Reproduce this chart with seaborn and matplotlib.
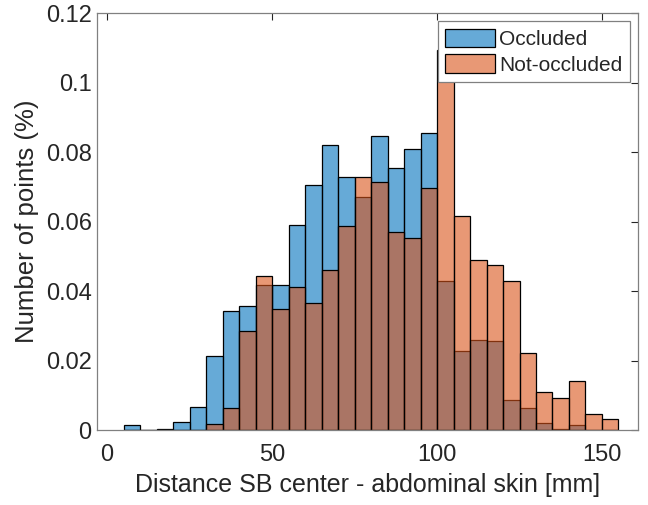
import numpy as np
import pandas as pd
import matplotlib
matplotlib.use("Agg")
import matplotlib.pyplot as plt
import seaborn as sns

# Bin edges (5 mm wide) and per-bin values
bin_edges = list(range(5, 160, 5))
occluded = [0.0013, 0.0, 0.0004, 0.0023, 0.0067, 0.0213, 0.0343, 0.0358, 0.0416,
            0.0416, 0.0589, 0.0706, 0.0821, 0.0729, 0.0672, 0.0846, 0.0754, 0.0808,
            0.0856, 0.0430, 0.0227, 0.0260, 0.0256, 0.0087, 0.0063, 0.0019, 0.0004,
            0.0013, 0.0, 0.0]
not_occluded = [0.0, 0.0, 0.0, 0.0, 0.0, 0.0016, 0.0063, 0.0286, 0.0443,
                0.0349, 0.0412, 0.0365, 0.0460, 0.0587, 0.0729, 0.0713, 0.0569, 0.0554,
                0.0697, 0.1094, 0.0617, 0.0490, 0.0474, 0.0428, 0.0221, 0.0110, 0.0093,
                0.0142, 0.0047, 0.0031]
labels = ["Occluded", "Not-occluded"]
x_ticks = [0, 50, 100, 150]
y_ticks = [0, 0.02, 0.04, 0.06, 0.08, 0.1, 0.12]
y_tick_labels = ["0", "0.02", "0.04", "0.06", "0.08", "0.1", "0.12"]

sns.set_style("white")
plt.rcParams['font.family'] = ['Liberation Sans', 'DejaVu Sans']

fig = plt.figure(figsize=(6.48, 5.05), dpi=100)
ax = fig.add_axes([0.150, 0.1485, 0.835, 0.8255])

edges = np.array(bin_edges, dtype=float)
centers = (edges[:-1] + edges[1:]) / 2
df_occ = pd.DataFrame({"x": centers, "w": occluded})
df_not = pd.DataFrame({"x": centers, "w": not_occluded})

blue = (0.0, 0.447, 0.741)
orange = (0.85, 0.325, 0.098)

sns.histplot(data=df_occ, x="x", weights="w", binwidth=5,
             binrange=(edges[0], edges[-1]), stat="count",
             color=blue, alpha=0.6, edgecolor="black", linewidth=0.9,
             ax=ax, label=labels[0])
sns.histplot(data=df_not, x="x", weights="w", binwidth=5,
             binrange=(edges[0], edges[-1]), stat="count",
             color=orange, alpha=0.6, edgecolor="black", linewidth=0.9,
             ax=ax, label=labels[1])

ax.set_xlim(-3, 161)
ax.set_ylim(0, 0.12)
ax.set_xticks(x_ticks)
ax.set_yticks(y_ticks)
ax.set_yticklabels(y_tick_labels)
ax.tick_params(direction="in", top=True, right=True, length=5, width=0.8,
               labelsize=17, colors="#262626")
ax.tick_params(axis="x", pad=10)
ax.tick_params(axis="y", pad=4)
for s in ax.spines.values():
    s.set_color("#808080")
    s.set_linewidth(0.9)
ax.set_xlabel("Distance SB center - abdominal skin [mm]", fontsize=18, color="#262626", labelpad=5)
ax.set_ylabel("Number of points (%)", fontsize=18.5, color="#262626", labelpad=5)

leg = ax.legend(loc="upper right", fontsize=15, frameon=True, fancybox=False,
                framealpha=1.0, borderaxespad=0.4, handlelength=2.4, handleheight=1.0,
                handletextpad=0.2, borderpad=0.35, labelspacing=0.25)
leg.get_frame().set_edgecolor("#808080")
leg.get_frame().set_linewidth(0.9)

fig.savefig("out.png", dpi=100)
